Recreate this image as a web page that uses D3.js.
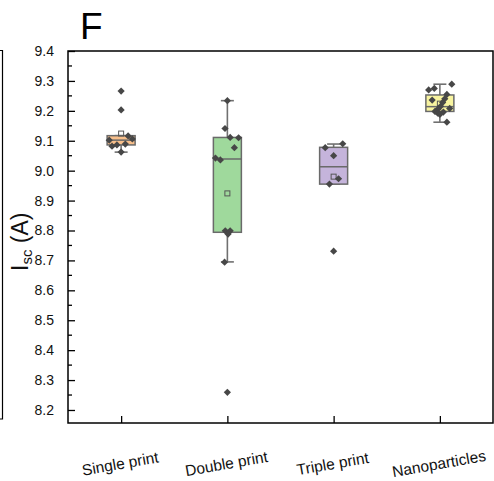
<!DOCTYPE html>
<html>
<head>
<meta charset="utf-8">
<script src="https://cdn.jsdelivr.net/npm/d3@7"></script>
<style>
  html, body { margin: 0; padding: 0; background: #fff; }
  svg { display: block; font-family: "Liberation Sans", Arial, sans-serif; }
</style>
</head>
<body>
<svg id="chart" width="494" height="481"></svg>
<script>
// Short-circuit current per printing method
const categories = ["Single print", "Double print", "Triple print", "Nanoparticles"];

// Raw measurements (A) and their horizontal jitter (fraction of half box width)
const singleVals   = [9.266, 9.203, 9.102, 9.082, 9.086, 9.089, 9.116, 9.106, 9.062];
const singleJitter = [0, 0, -0.85, -0.65, -0.3, 0.3, 0.5, 0.8, 0];
const doubleVals   = [9.234, 9.141, 9.111, 9.110, 9.077, 9.042, 9.036, 8.799, 8.799, 8.788, 8.694, 8.259];
const doubleJitter = [0, -0.17, 0.2, 0.8, 0.5, -0.85, -0.5, -0.15, 0.2, 0.05, -0.2, 0];
const tripleVals   = [9.077, 9.090, 9.050, 8.973, 8.955, 8.731];
const tripleJitter = [-0.6, 0.65, 0, 0.35, -0.3, 0];
const nanoVals     = [9.289, 9.275, 9.270, 9.255, 9.236, 9.240, 9.228, 9.215, 9.208, 9.205, 9.198, 9.192, 9.196, 9.188, 9.162];
const nanoJitter   = [0.85, -0.4, -0.8, 0.5, -0.55, 0.35, 0.2, 0.05, 0.7, -0.15, -0.35, -0.15, 0.25, 0, 0.5];

// Box statistics per category
const q1          = [9.086, 8.794, 8.955, 9.198];
const medians     = [9.102, 9.039, 9.013, 9.214];
const q3          = [9.117, 9.111, 9.078, 9.253];
const whiskerLow  = [9.062, 8.695, 8.955, 9.162];
const whiskerHigh = [9.117, 9.234, 9.089, 9.289];
const means       = [9.124, 8.924, 8.980, 9.224];

const boxColors = ["#F7BF8B", "#9FD99C", "#C5B4DB", "#F8F4A0"];

const yTicks = [8.2, 8.3, 8.4, 8.5, 8.6, 8.7, 8.8, 8.9, 9.0, 9.1, 9.2, 9.3, 9.4];

const groups = [
  { vals: singleVals, jit: singleJitter },
  { vals: doubleVals, jit: doubleJitter },
  { vals: tripleVals, jit: tripleJitter },
  { vals: nanoVals,   jit: nanoJitter }
];

const svg = d3.select("#chart");
const plot = { left: 68, top: 51, right: 493, bottom: 423 };

const x = d3.scalePoint().domain(categories).range([plot.left, plot.right]).padding(0.5);
const y = d3.scaleLinear().domain([8.1565, 9.4]).range([plot.bottom, plot.top]);

const boxW = 28, capW = 13;

// neighbouring panel edge
svg.append("path")
  .attr("d", `M0,50.5H2.5V419H0`)
  .attr("fill", "none").attr("stroke", "#000").attr("stroke-width", 1.2);

// panel letter
svg.append("text").attr("x", 80).attr("y", 39)
  .attr("font-size", 37).attr("fill", "#000").text("F");

// Y axis with inward ticks
const yAxis = d3.axisLeft(y).tickValues(yTicks).tickFormat(d3.format(".1f"))
  .tickSizeInner(-7).tickSizeOuter(0).tickPadding(14);
const gy = svg.append("g").attr("transform", `translate(${plot.left},0)`).call(yAxis);
gy.select(".domain").remove();
gy.selectAll("text").attr("font-size", 14).attr("fill", "#111")
  .attr("font-family", "Liberation Sans, Arial, sans-serif");
gy.selectAll("line").attr("stroke", "#000").attr("stroke-width", 1.3);

// minor ticks
const minor = d3.range(8.15, 9.4, 0.1).map(v => +v.toFixed(2)).filter(v => v > y.domain()[0]);
svg.append("g").selectAll("line").data(minor).join("line")
  .attr("x1", plot.left).attr("x2", plot.left + 4)
  .attr("y1", d => y(d)).attr("y2", d => y(d))
  .attr("stroke", "#000").attr("stroke-width", 1.3);

// X axis with inward ticks
const xAxis = d3.axisBottom(x).tickSizeInner(-7).tickSizeOuter(0).tickFormat("");
const gx = svg.append("g").attr("transform", `translate(0,${plot.bottom})`).call(xAxis);
gx.select(".domain").remove();
gx.selectAll("line").attr("stroke", "#000").attr("stroke-width", 1.3);

// rotated category labels
svg.append("g").selectAll("text").data(categories).join("text")
  .attr("transform", d => `translate(${x(d)},${469}) rotate(-10)`)
  .attr("text-anchor", "middle")
  .attr("font-size", 15.5).attr("fill", "#111")
  .text(d => d);

// frame
svg.append("rect")
  .attr("x", plot.left).attr("y", plot.top)
  .attr("width", plot.right - plot.left).attr("height", plot.bottom - plot.top)
  .attr("fill", "none").attr("stroke", "#000").attr("stroke-width", 1.5);

// y title
const yt = svg.append("text")
  .attr("transform", `translate(28,271) rotate(-90)`)
  .attr("text-anchor", "start").attr("font-size", 23).attr("fill", "#111");
yt.append("tspan").text("I");
yt.append("tspan").attr("font-size", 15).attr("dy", 3.5).text("sc");
yt.append("tspan").attr("dy", -3.5).text(" (A)");

// boxes
const boxes = svg.append("g");
categories.forEach((c, i) => {
  const cx = x(c);
  const g = boxes.append("g");
  // whiskers
  g.append("line").attr("x1", cx).attr("x2", cx)
    .attr("y1", y(q3[i])).attr("y2", y(whiskerHigh[i]))
    .attr("stroke", "#707070").attr("stroke-width", 1.6);
  g.append("line").attr("x1", cx).attr("x2", cx)
    .attr("y1", y(q1[i])).attr("y2", y(whiskerLow[i]))
    .attr("stroke", "#707070").attr("stroke-width", 1.6);
  [whiskerHigh[i], whiskerLow[i]].forEach(v => {
    g.append("line").attr("x1", cx - capW / 2).attr("x2", cx + capW / 2)
      .attr("y1", y(v)).attr("y2", y(v))
      .attr("stroke", "#707070").attr("stroke-width", 1.6);
  });
  g.append("rect")
    .attr("x", cx - boxW / 2).attr("y", y(q3[i]))
    .attr("width", boxW).attr("height", y(q1[i]) - y(q3[i]))
    .attr("fill", boxColors[i]).attr("stroke", "#6a6a6a").attr("stroke-width", 1.5);
  g.append("line").attr("x1", cx - boxW / 2).attr("x2", cx + boxW / 2)
    .attr("y1", y(medians[i])).attr("y2", y(medians[i]))
    .attr("stroke", "#6a6a6a").attr("stroke-width", 1.5);
  // mean marker
  g.append("rect")
    .attr("x", cx - 2.5).attr("y", y(means[i]) - 2.5)
    .attr("width", 5).attr("height", 5)
    .attr("fill", "none").attr("stroke", "#555").attr("stroke-width", 1);
});

// data points
const diamond = d3.symbol().type(d3.symbolSquare).size(26);
const pts = svg.append("g");
groups.forEach((gr, i) => {
  const cx = x(categories[i]);
  pts.selectAll(null).data(gr.vals).join("path")
    .attr("d", diamond)
    .attr("transform", (d, k) => `translate(${cx + gr.jit[k] * boxW / 2},${y(d)}) rotate(45)`)
    .attr("fill", "#474747");
});
</script>
</body>
</html>
